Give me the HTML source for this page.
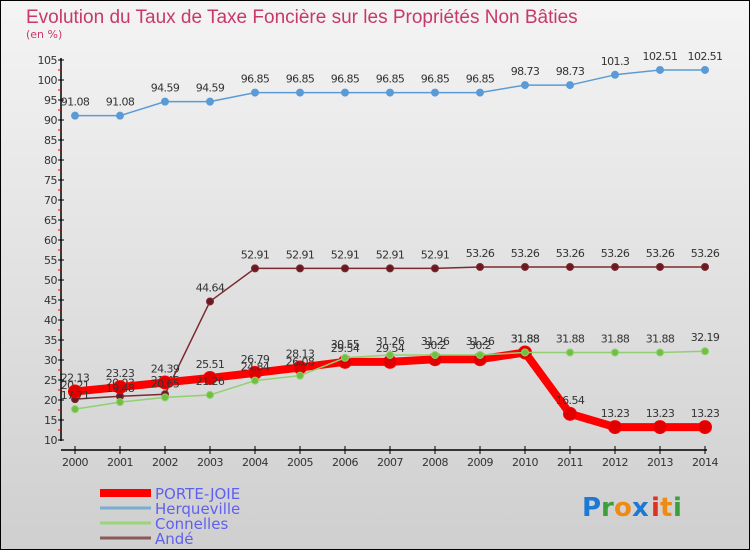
<!DOCTYPE html>
<html><head><meta charset="utf-8"><style>
html,body{margin:0;padding:0;}
body{width:750px;height:550px;overflow:hidden;font-family:"Liberation Sans",sans-serif;}
svg text{font-family:"DejaVu Sans","Liberation Sans",sans-serif;}
</style></head><body>
<svg id="chart" width="750" height="550" xmlns="http://www.w3.org/2000/svg">
<defs><linearGradient id="bg" x1="0" y1="0" x2="0" y2="1"><stop offset="0" stop-color="#f4f4f4"/><stop offset="1" stop-color="#cfcfcf"/></linearGradient></defs>
<rect x="0.5" y="0.5" width="749" height="549" fill="url(#bg)" stroke="#000"/>
<text x="26" y="23" font-size="19" fill="#c8386c" style="font-family:'Liberation Sans',sans-serif">Evolution du Taux de Taxe Foncière sur les Propriétés Non Bâties</text>
<text x="26" y="38" font-size="11" fill="#c8386c">(en %)</text>
<g id="axes"></g><g id="series"></g><g id="legend"></g>
<g font-size="26" font-weight="bold">
<text x="582" y="516" fill="#1a7ad4">P</text><text x="601" y="516" fill="#3aa03a">r</text><text x="614" y="516" fill="#f08a10">o</text><text x="632" y="516" fill="#1a7ad4">x</text><text x="651" y="516" fill="#e03020">i</text><text x="660" y="516" fill="#f08a10">t</text><text x="673" y="516" fill="#3aa03a">i</text>
</g>
</svg>
<script>
const years=[2000,2001,2002,2003,2004,2005,2006,2007,2008,2009,2010,2011,2012,2013,2014];
const yTicks=[10,15,20,25,30,35,40,45,50,55,60,65,70,75,80,85,90,95,100,105];
const porteJoie=[22.13,23.23,24.39,25.51,26.79,28.13,29.54,29.54,30.2,30.2,31.88,16.54,13.23,13.23,13.23];
const herqueville=[91.08,91.08,94.59,94.59,96.85,96.85,96.85,96.85,96.85,96.85,98.73,98.73,101.3,102.51,102.51];
const connelles=[17.71,19.48,20.65,21.26,24.84,26.08,30.55,31.26,31.26,31.26,31.88,31.88,31.88,31.88,32.19];
const ande=[20.21,20.93,21.45,44.64,52.91,52.91,52.91,52.91,52.91,53.26,53.26,53.26,53.26,53.26,53.26];
const NS="http://www.w3.org/2000/svg";
const xS=i=>75+i*45.0;
const yS=v=>440-(v-10)*4;
function mk(tag,attrs,parent){const e=document.createElementNS(NS,tag);for(const k in attrs)e.setAttribute(k,attrs[k]);parent.appendChild(e);return e;}
const axes=document.getElementById('axes');
let a=mk('line',{x1:61,y1:58,x2:61,y2:441,stroke:'#000','stroke-width':1.5},axes);


yTicks.forEach((v,k)=>{
 let t=mk('line',{x1:58,y1:yS(v),x2:64,y2:yS(v),stroke:'#000'},axes);
 
 
 if(k<yTicks.length-1){
  let m=mk('line',{x1:58,y1:yS(v+2.5),x2:61,y2:yS(v+2.5),stroke:'#e00'},axes);
  
  
 }
 let l=mk('text',{x:57,y:yS(v)+4,'font-size':11,'text-anchor':'end',fill:'#333','letter-spacing':'-0.5'},axes);
 l.textContent=v;
 
 
});
let xa=mk('line',{x1:61,y1:450,x2:707,y2:450,stroke:'#000','stroke-width':1.5},axes);


years.forEach((y,i)=>{
 let t=mk('line',{x1:xS(i),y1:446,x2:xS(i),y2:454,stroke:'#000'},axes);
 
 
 let l=mk('text',{x:xS(i),y:466,'font-size':11,'text-anchor':'middle',fill:'#333','letter-spacing':'-0.5'},axes);
 l.textContent=y;
 
 
});
const sg=document.getElementById('series');
function draw(vals,name,color,dot,w,r,labels){
 const g=mk('g',{},sg);
 
 
 const p=mk('polyline',{points:vals.map((v,i)=>xS(i)+','+yS(v)).join(' '),fill:'none',stroke:color,'stroke-width':w,'stroke-linejoin':'round'},g);
 
 
 vals.forEach((v,i)=>{
  const c=mk('circle',{cx:xS(i),cy:yS(v),r:r,fill:dot,stroke:color,'stroke-width':1},g);
  
  
  if(labels){
   const t=mk('text',{x:xS(i),y:yS(v)-10,'font-size':11,'text-anchor':'middle',fill:'#333','letter-spacing':'-0.6'},g);
   t.textContent=v;
   
   
  }
 });
}
draw(herqueville,'herqueville','#5b9bd5','#5b9bd5',1.5,3.5,true);
draw(ande,'ande','#7a2a30','#6a1a20',1.5,3.5,true);
draw(porteJoie,'porte-joie','#ff0000','#e00000',8,6.5,true);
draw(connelles,'connelles','#90d070','#70c040',1.5,3.5,true);
const lg=document.getElementById('legend');
const items=[['PORTE-JOIE','#ff0000',8,'legend-porte-joie'],['Herqueville','#7aaed0',3,'legend-herqueville'],['Connelles','#9ad57a',3,'legend-connelles'],['Andé','#8a5a5a',3,'legend-ande']];
items.forEach((it,i)=>{
 const y=493+i*15;
 const g=mk('g',{},lg);
 
 
 mk('line',{x1:100,y1:y,x2:151,y2:y,stroke:it[1],'stroke-width':it[2]},g);
 const t=mk('text',{x:155,y:y+6,'font-size':15,fill:'#6060f0'},g);
 t.textContent=it[0];
});
</script>
</body></html>
